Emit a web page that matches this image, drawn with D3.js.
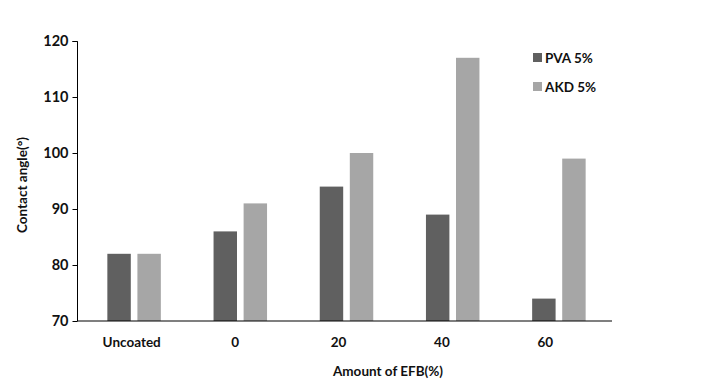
<!DOCTYPE html>
<html><head><meta charset="utf-8">
<script src="https://cdn.jsdelivr.net/npm/d3@7"></script>
<style>body{margin:0;background:#fff}svg{display:block}text{font-family:Lato,"Open Sans",sans-serif;font-weight:bold;fill:#111}</style>
</head><body><svg id="c" width="706" height="389"></svg>
<script>
const categories = ["Uncoated","0","20","40","60"];
const seriesNames = ["PVA 5%","AKD 5%"];
const pva = [82,86,94,89,74];
const akd = [82,91,100,117,99];
const yTicks = [70,80,90,100,110,120];
const colors = ["#606060","#a6a6a6"];

const svg = d3.select("#c");
const y = d3.scaleLinear().domain([70,120]).range([321,41]);
const x = d3.scaleBand().domain(categories).range([81,612]).paddingInner(0).paddingOuter(0);
const xLab = d3.scaleBand().domain(categories).range([80,597]);
const xs = d3.scaleBand().domain(seriesNames).range([0,53.5]).paddingInner(0.22);
const groupOff = (x.bandwidth()-53.5)/2;

const data = categories.map((c,i)=>({c, vals:[pva[i],akd[i]]}));
const g = svg.append("g");
data.forEach(d=>{
  d.vals.forEach((v,j)=>{
    g.append("rect")
      .attr("x", x(d.c)+groupOff+xs(seriesNames[j]))
      .attr("width", xs.bandwidth())
      .attr("y", y(v))
      .attr("height", y(70)-y(v))
      .attr("fill", colors[j]);
  });
});

// y axis
const ya = svg.append("g").attr("transform","translate(77.5,0)")
  .call(d3.axisLeft(y).tickValues(yTicks).tickSize(5).tickPadding(4));
ya.select(".domain").attr("stroke","#000").attr("d","M-5,41.5H0V321");
ya.selectAll(".tick line").attr("stroke","#000");
ya.selectAll(".tick text").style("font-size","14.5px").attr("fill","#111");

// x axis line
svg.append("line").attr("x1",77).attr("x2",612).attr("y1",321).attr("y2",321).attr("stroke","#000").attr("stroke-width",1.2);
const xa = svg.append("g").attr("transform","translate(0,321)")
  .call(d3.axisBottom(xLab).tickSize(0).tickPadding(16));
xa.select(".domain").remove();
xa.selectAll(".tick text").style("font-size","13.5px").attr("fill","#111");

svg.append("text").attr("x",388).attr("y",376).attr("text-anchor","middle").style("font-size","13.5px").text("Amount of EFB(%)");
svg.append("text").attr("transform","translate(27,185) rotate(-90)").attr("text-anchor","middle").style("font-size","13.5px").text("Contact angle(°)");

// legend
seriesNames.forEach((s,j)=>{
  const ly = 58 + j*29;
  svg.append("rect").attr("x",533).attr("y",ly-5).attr("width",9).attr("height",9).attr("fill",colors[j]);
  svg.append("text").attr("x",545).attr("y",ly+5).style("font-size","13.5px").text(s);
});
</script></body></html>
